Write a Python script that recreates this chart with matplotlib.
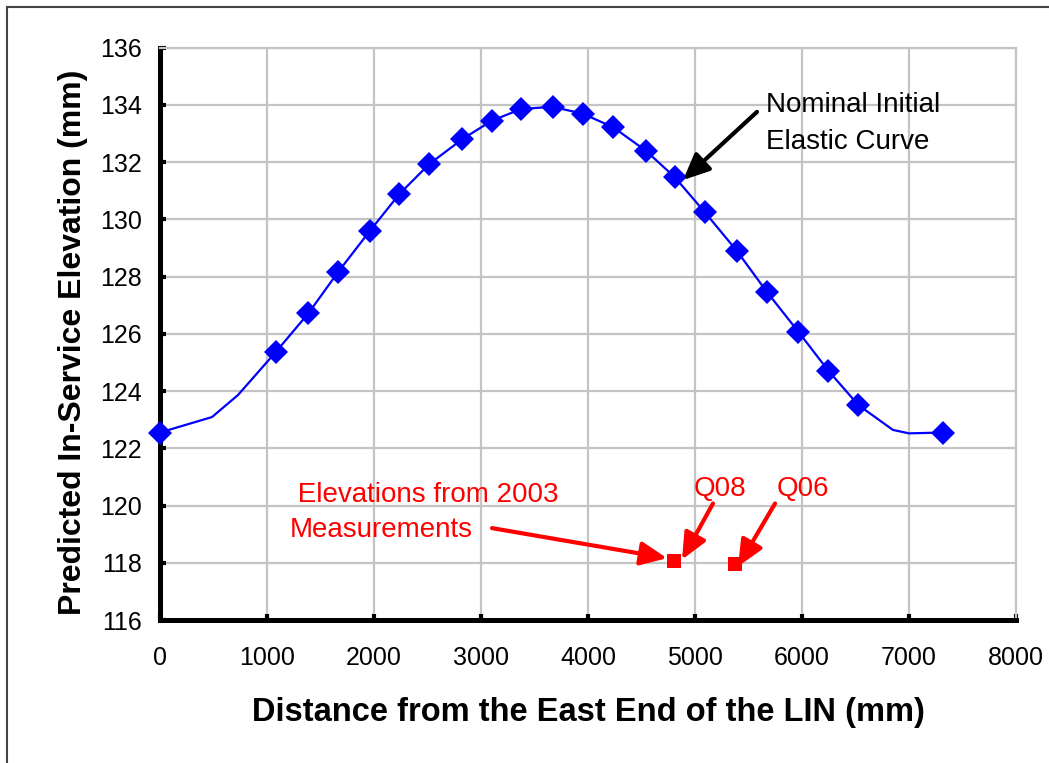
import matplotlib
matplotlib.use("Agg")
import matplotlib.pyplot as plt
from matplotlib.lines import Line2D

plt.rcParams['font.family'] = ['Liberation Sans', 'DejaVu Sans']

# Nominal initial elastic curve (mm)
curve_x = [0, 486, 729, 1084, 1386, 1667, 1963, 2237, 2517, 2826, 3100, 3374,
           3670, 3956, 4237, 4542, 4813, 5093, 5390, 5670, 5966, 6246, 6526,
           6850, 7000, 7315]
curve_y = [122.55, 123.09, 123.86, 125.37, 126.71, 128.17, 129.60, 130.88,
           131.93, 132.80, 133.44, 133.85, 133.93, 133.68, 133.21, 132.39,
           131.46, 130.24, 128.90, 127.47, 126.07, 124.71, 123.51, 122.64,
           122.52, 122.55]
# curve vertices that carry a diamond marker
marked = [0, 3, 4, 5, 6, 7, 8, 9, 10, 11, 12, 13, 14, 15, 16, 17, 18, 19, 20,
          21, 22, 25]

# 2003 measured elevations
meas_names = ["Q08", "Q06"]
meas_x = [4800, 5370]
meas_y = [118.05, 117.95]

x_ticks = [0, 1000, 2000, 3000, 4000, 5000, 6000, 7000, 8000]
y_ticks = [116, 118, 120, 122, 124, 126, 128, 130, 132, 134, 136]

W, H = 1049, 763
fig = plt.figure(figsize=(W / 100, H / 100), dpi=100)
ax = fig.add_axes([160 / W, 1 - 620 / H, (1016 - 160) / W, (620 - 47.5) / H])

ax.set_xlim(0, 8000)
ax.set_ylim(116, 136)
ax.set_xticks(x_ticks)
ax.set_yticks(y_ticks)
ax.grid(True, color='#c4c4c4', lw=1.6, zorder=0)
ax.set_axisbelow(True)

for side in ('left', 'bottom'):
    ax.spines[side].set_color('black')
    ax.spines[side].set_linewidth(3.6)
for side in ('top', 'right'):
    ax.spines[side].set_color('#c4c4c4')
    ax.spines[side].set_linewidth(1.6)

ax.tick_params(direction='in', length=4, width=3, colors='black',
               labelsize=18)
ax.tick_params(axis='x', pad=19)
ax.tick_params(axis='y', pad=13)

ax.plot(curve_x, curve_y, color='#0000ff', lw=1.6, marker='D', ms=12.5,
        markevery=marked, markeredgewidth=0, zorder=3, clip_on=False)
ax.plot(meas_x, meas_y, ls='none', marker='s', ms=10, color='#ff0000',
        markeredgewidth=0, zorder=3)

ax.set_xlabel("Distance from the East End of the LIN (mm)", fontsize=23.5,
              fontweight='bold', labelpad=19)
ax.set_ylabel("Predicted In-Service Elevation (mm)", fontsize=23,
              fontweight='bold', labelpad=9)
ax.yaxis.label.set_y(0.485)

arrow_k = dict(arrowstyle='-|>,head_length=1.0,head_width=0.45',
               mutation_scale=16, lw=3, shrinkA=0, shrinkB=0)

# curve callout
ax.text(5664, 133.34, "Nominal Initial\nElastic Curve", fontsize=20,
        color='black', ha='left', va='center', linespacing=1.55)
ax.annotate("", xy=(4888, 131.37), xytext=(5579, 133.75),
            arrowprops=dict(color='black', **arrow_k))

# measurement callouts
ax.text(1215, 119.75, " Elevations from 2003\nMeasurements", fontsize=20,
        color='#ff0000', ha='left', va='center', linespacing=1.48)
ax.annotate("", xy=(4738, 118.16), xytext=(3103, 119.21),
            arrowprops=dict(color='#ff0000', **arrow_k))

label_pos = [(5234, 120.56), (6009, 120.56)]
arrow_tail = [(5168, 120.07), (5748, 120.07)]
arrow_head = [(4879, 118.11), (5402, 117.87)]
for name, lp, tail, head in zip(meas_names, label_pos, arrow_tail, arrow_head):
    ax.text(lp[0], lp[1], name, fontsize=20, color='#ff0000',
            ha='center', va='center')
    ax.annotate("", xy=head, xytext=tail,
                arrowprops=dict(color='#ff0000', **arrow_k))

# outer frame
fig.add_artist(Line2D([7 / W, 7 / W], [0, 1 - 7 / H], color='#444444', lw=1.5))
fig.add_artist(Line2D([7 / W, 1], [1 - 7 / H, 1 - 7 / H], color='#444444', lw=1.5))

fig.savefig("out.png", dpi=100)
